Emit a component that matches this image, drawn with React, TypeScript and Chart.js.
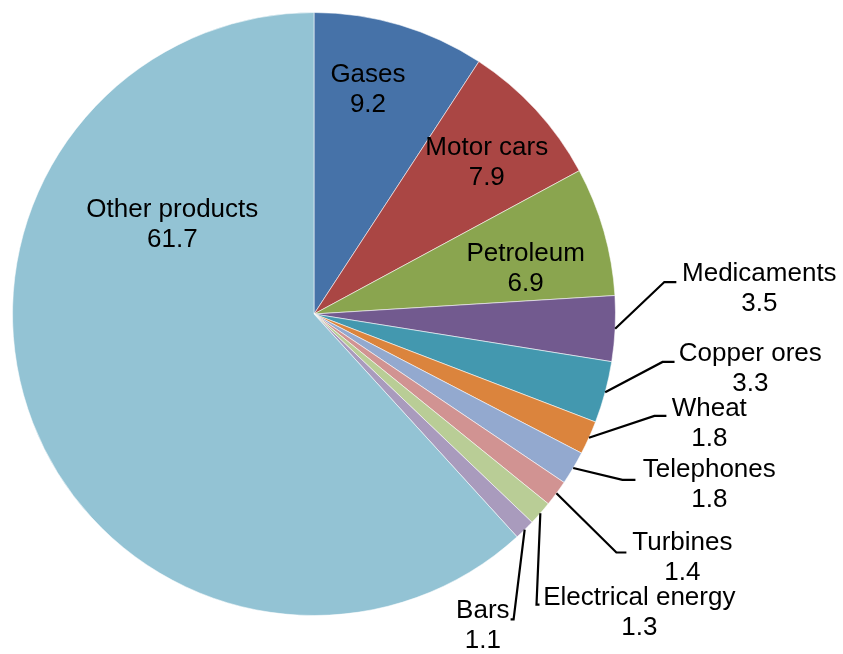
import React, { useEffect, useRef } from "react";
import { Chart, registerables } from "chart.js";

Chart.register(...registerables);

const categories = [
  "Gases",
  "Motor cars",
  "Petroleum",
  "Medicaments",
  "Copper ores",
  "Wheat",
  "Telephones",
  "Turbines",
  "Electrical energy",
  "Bars",
  "Other products",
];
const values = [9.2, 7.9, 6.9, 3.5, 3.3, 1.8, 1.8, 1.4, 1.3, 1.1, 61.7];
const valueLabels = ["9.2", "7.9", "6.9", "3.5", "3.3", "1.8", "1.8", "1.4", "1.3", "1.1", "61.7"];
const sliceColors = [
  "#4672A8",
  "#AA4644",
  "#8AA54F",
  "#725A8F",
  "#4398AF",
  "#DB843D",
  "#93A9CF",
  "#D19392",
  "#B9CD96",
  "#A99BBD",
  "#93C3D4",
];

// label layout in units of the pie radius, relative to the pie centre
// inside: text block centre; outside: text centre, elbow of leader, tail length px
type Lay = { tx: number; ty: number; ex?: number; ey?: number; tail?: number };
const labelLayout: Lay[] = [
  { tx: 0.179, ty: -0.742 },
  { tx: 0.573, ty: -0.503 },
  { tx: 0.702, ty: -0.149 },
  { tx: 1.477, ty: -0.083, ex: 1.162, ey: -0.106, tail: 12 },
  { tx: 1.447, ty: 0.182, ex: 1.156, ey: 0.159, tail: 12 },
  { tx: 1.311, ty: 0.364, ex: 1.129, ey: 0.338, tail: 12 },
  { tx: 1.311, ty: 0.566, ex: 1.023, ey: 0.55, tail: 13 },
  { tx: 1.222, ty: 0.808, ex: 1.003, ey: 0.791, tail: 10 },
  { tx: 1.079, ty: 0.99, ex: 0.738, ey: 0.964, tail: 3 },
  { tx: 0.56, ty: 1.033, ex: 0.662, ey: 1.013, tail: -3 },
  { tx: -0.47, ty: -0.295 },
];

const FONT = '26px "Liberation Sans", Arial, sans-serif';
const LINE_GAP = 30;

const labelPlugin = {
  id: "sliceLabels",
  afterDatasetsDraw(chart: any) {
    const ctx = chart.ctx as CanvasRenderingContext2D;
    const meta = chart.getDatasetMeta(0);
    ctx.save();
    ctx.font = FONT;
    ctx.fillStyle = "#000";
    ctx.textAlign = "center";
    ctx.textBaseline = "middle";
    meta.data.forEach((arc: any, i: number) => {
      const p = arc.getProps(["x", "y", "startAngle", "endAngle", "outerRadius"], true);
      const R = p.outerRadius;
      const lay = labelLayout[i];
      const tx = p.x + lay.tx * R;
      const ty = p.y + lay.ty * R;
      if (lay.ex !== undefined && lay.ey !== undefined) {
        const mid = (p.startAngle + p.endAngle) / 2;
        const sx = p.x + Math.cos(mid) * R;
        const sy = p.y + Math.sin(mid) * R;
        const ex = p.x + lay.ex * R;
        const ey = p.y + lay.ey * R;
        ctx.beginPath();
        ctx.strokeStyle = "#000";
        ctx.lineWidth = 2.2;
        ctx.lineJoin = "miter";
        ctx.moveTo(sx, sy);
        ctx.lineTo(ex, ey);
        ctx.lineTo(ex + (lay.tail || 0), ey);
        ctx.stroke();
      }
      ctx.fillText(categories[i], tx, ty - LINE_GAP / 2);
      ctx.fillText(valueLabels[i], tx, ty + LINE_GAP / 2);
    });
    ctx.restore();
  },
};

export default function App() {
  const ref = useRef<HTMLCanvasElement | null>(null);
  useEffect(() => {
    document.body.style.margin = "0";
    const canvas = ref.current;
    if (!canvas) return;
    const chart = new Chart(canvas, {
      type: "pie",
      data: {
        labels: categories,
        datasets: [
          {
            data: values,
            backgroundColor: sliceColors,
            borderColor: "rgba(255,255,255,0.55)",
            borderWidth: 1,
          },
        ],
      },
      options: {
        responsive: false,
        animation: false,
        layout: { padding: { left: 12, top: 12, right: 227, bottom: 38 } },
        plugins: {
          legend: { display: false },
          tooltip: { enabled: false },
        },
      },
      plugins: [labelPlugin],
    });
    return () => chart.destroy();
  }, []);
  return (
    <div style={{ width: 843, height: 654 }}>
      <canvas ref={ref} width={843} height={654} style={{ display: "block" }} />
    </div>
  );
}
